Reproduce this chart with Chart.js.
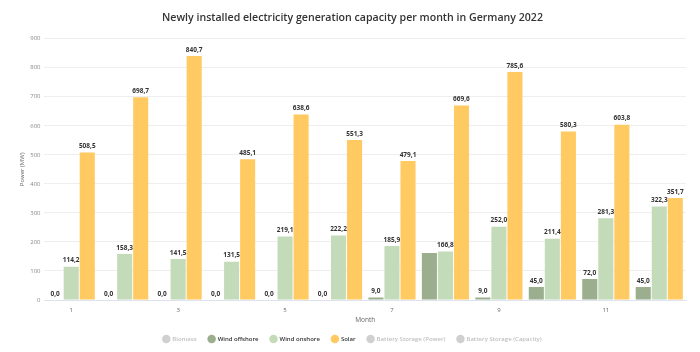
<!DOCTYPE html>
<html>
<head>
<meta charset="utf-8">
<script src="https://cdn.jsdelivr.net/npm/chart.js@4"></script>
<style>
  html, body { margin: 0; padding: 0; background: #fff; }
  #wrap { width: 700px; height: 352px; position: relative; }
</style>
</head>
<body>
<div id="wrap"><canvas id="chart"></canvas></div>
<script>
const months = ['1', '2', '3', '4', '5', '6', '7', '8', '9', '10', '11', '12'];

// MW per month
const biomass = [];
const windOffshore = [0, 0, 0, 0, 0, 0, 9.0, 162.0, 9.0, 45.0, 72.0, 45.0];
const windOnshore = [114.2, 158.3, 141.5, 131.5, 219.1, 222.2, 185.9, 166.8, 252.0, 211.4, 281.3, 322.3];
const solar = [508.5, 698.7, 840.7, 485.1, 638.6, 551.3, 479.1, 669.6, 785.6, 580.3, 603.8, 351.7];
const batteryPower = [];
const batteryCapacity = [];

const yTicksMax = 900;
const font = '"Open Sans", sans-serif';

// draws the value above each bar, skipping labels that collide
const valueLabels = {
    id: 'valueLabels',
    afterDatasetsDraw(chart) {
        const c = chart.ctx;
        c.save();
        c.font = 'bold 6.5px ' + font;
        c.fillStyle = '#333';
        c.textAlign = 'center';
        c.textBaseline = 'bottom';
        const taken = [];
        for (let d = chart.data.datasets.length - 1; d >= 0; d--) {
            if (!chart.isDatasetVisible(d)) continue;
            const meta = chart.getDatasetMeta(d);
            meta.data.forEach((bar, i) => {
                const v = chart.data.datasets[d].data[i];
                if (v == null) return;
                const txt = v.toFixed(1).replace('.', ',');
                const w = c.measureText(txt).width;
                const y = bar.y - 3;
                const r = { l: bar.x - w / 2, r: bar.x + w / 2, t: y - 8, b: y };
                if (taken.some(o => r.l < o.r && r.r > o.l && r.t < o.b && r.b > o.t)) return;
                taken.push(r);
                c.fillText(txt, bar.x, y);
            });
        }
        c.restore();
    }
};

const series = [
    { label: 'Biomass', data: biomass, color: '#8fb0c8', hidden: true },
    { label: 'Wind offshore', data: windOffshore, color: '#9bae8d' },
    { label: 'Wind onshore', data: windOnshore, color: '#c4dbb9' },
    { label: 'Solar', data: solar, color: '#ffca62' },
    { label: 'Battery Storage (Power)', data: batteryPower, color: '#a0a0d0', hidden: true },
    { label: 'Battery Storage (Capacity)', data: batteryCapacity, color: '#d0a0a0', hidden: true }
];

const ctx = document.getElementById('chart').getContext('2d');

const chart = new Chart(ctx, {
    type: 'bar',
    data: {
        labels: months,
        datasets: series.map(s => ({
            label: s.label,
            data: s.data,
            backgroundColor: s.color,
            borderWidth: 0,
            hidden: !!s.hidden,
            barPercentage: 0.94,
            categoryPercentage: 0.9
        }))
    },
    plugins: [valueLabels],
    options: {
        responsive: true,
        maintainAspectRatio: false,
        animation: false,
        layout: { padding: { left: 19, right: 14, top: 8, bottom: 0 } },
        plugins: {
            title: {
                display: true,
                text: 'Newly installed electricity generation capacity per month in Germany 2022',
                color: '#333',
                font: { family: font, size: 10.6, weight: '600' },
                padding: { top: 4, bottom: 14 }
            },
            legend: {
                position: 'bottom',
                labels: {
                    usePointStyle: true,
                    pointStyle: 'circle',
                    boxWidth: 6,
                    boxHeight: 6,
                    padding: 12,
                    font: { family: font, size: 6, weight: '600' },
                    generateLabels(ch) {
                        return ch.data.datasets.map((ds, i) => {
                            const off = !ch.isDatasetVisible(i);
                            return {
                                text: ds.label,
                                fillStyle: off ? '#d0d0d0' : ds.backgroundColor,
                                strokeStyle: off ? '#d0d0d0' : ds.backgroundColor,
                                lineWidth: 0,
                                fontColor: off ? '#c0c0c0' : '#333',
                                pointStyle: 'circle',
                                hidden: false,
                                datasetIndex: i
                            };
                        });
                    }
                }
            },
            tooltip: { enabled: false }
        },
        scales: {
            x: {
                grid: { display: false, drawTicks: false },
                border: { color: '#dde3ee' },
                ticks: {
                    color: '#666',
                    padding: 7,
                    font: { family: font, size: 6 },
                    autoSkip: false,
                    maxRotation: 0,
                    callback: (v, i) => (i % 2 === 0 ? months[i] : '')
                },
                title: {
                    display: true,
                    text: 'Month',
                    align: 'center',
                    color: '#666',
                    font: { family: font, size: 6.5 },
                    padding: { top: -5, bottom: 0 }
                }
            },
            y: {
                min: 0,
                max: yTicksMax,
                grid: { color: '#eeeeee', drawTicks: false },
                border: { display: false },
                ticks: {
                    stepSize: 100,
                    color: '#888',
                    padding: 4,
                    font: { family: font, size: 6 }
                },
                title: {
                    display: true,
                    text: 'Power (MW)',
                    color: '#666',
                    font: { family: font, size: 6 },
                    padding: { top: 0, bottom: 0 }
                }
            }
        }
    }
});
</script>
</body>
</html>
